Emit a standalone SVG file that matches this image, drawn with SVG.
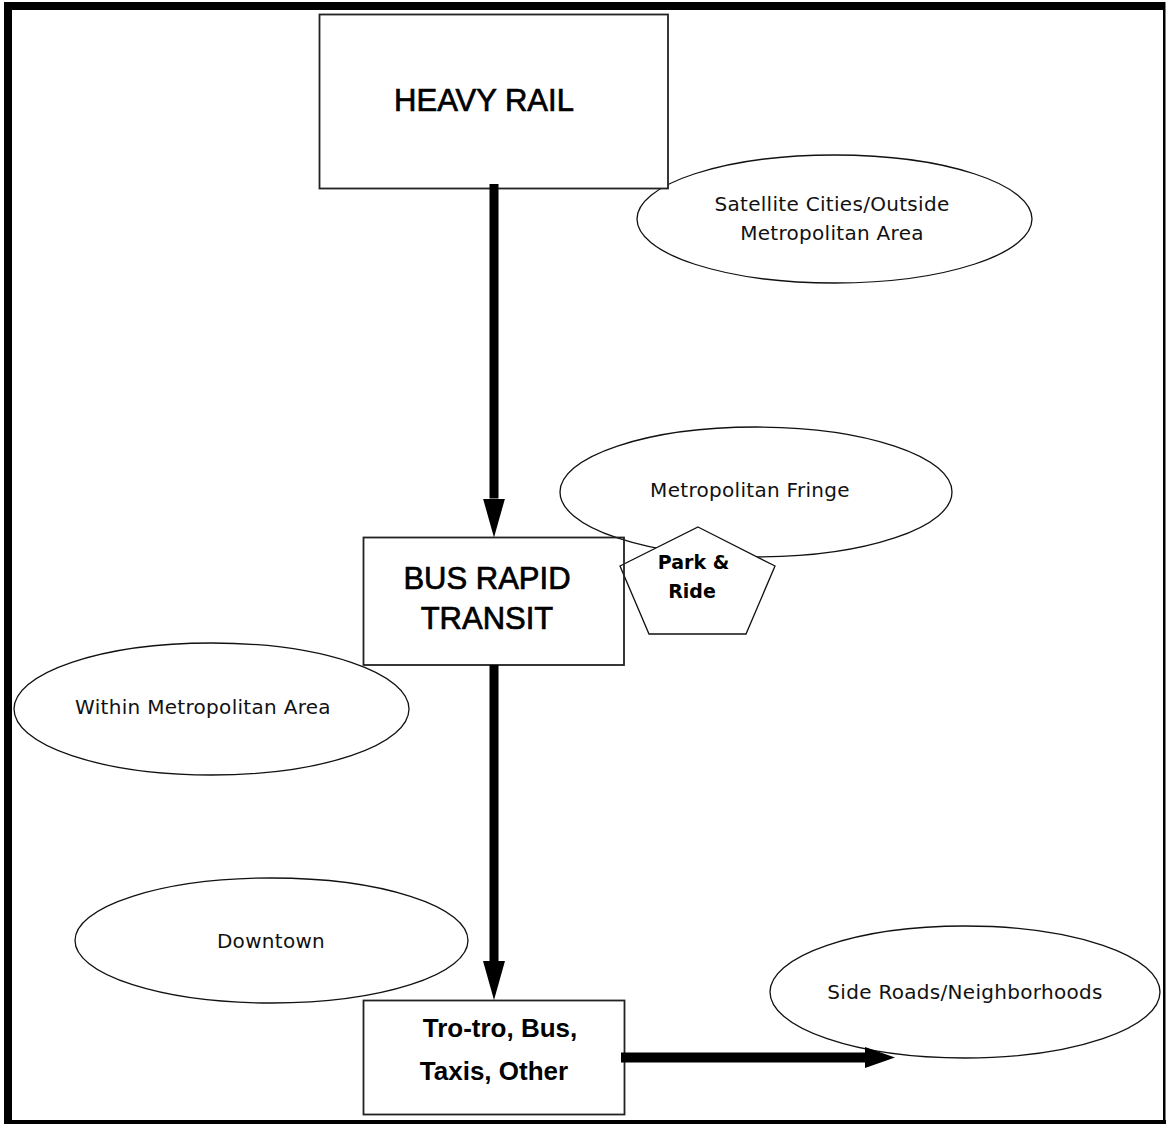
<svg xmlns="http://www.w3.org/2000/svg" width="1166" height="1124" viewBox="0 0 1166 1124">
<style>
.ell{fill:none;stroke:#111;stroke-width:1.3}
.box{fill:#fff;stroke:#222;stroke-width:1.8}
.boxn{fill:none;stroke:#222;stroke-width:1.8}
.big{font-family:"Liberation Sans",Arial,sans-serif;font-size:31px;fill:#000;stroke:#000;stroke-width:0.7;text-anchor:middle}
.bold{font-family:"Liberation Sans",Arial,sans-serif;font-size:26px;font-weight:bold;fill:#000;text-anchor:middle}
.small{font-family:"DejaVu Sans",sans-serif;font-size:20px;letter-spacing:0.3px;fill:#111;text-anchor:middle}
.pr{font-family:"DejaVu Sans",sans-serif;font-size:19px;font-weight:bold;fill:#000;text-anchor:middle}
.conn{stroke:#000;fill:none}
</style>
<defs>
<marker id="av" markerUnits="userSpaceOnUse" viewBox="0 0 39 22" markerWidth="39" markerHeight="22" refX="0" refY="11" orient="auto">
<path d="M0,0 L39,11 L0,22 Z" fill="#000"/>
</marker>
<marker id="ah" markerUnits="userSpaceOnUse" viewBox="0 0 30 21" markerWidth="30" markerHeight="21" refX="0" refY="10.5" orient="auto">
<path d="M0,0 L30,10.5 L0,21 Z" fill="#000"/>
</marker>
</defs>
<rect x="0" y="0" width="1166" height="1124" fill="#fff"/>
<g id="frame" fill="#000">
<rect x="4" y="2" width="1161" height="8"/>
<rect x="4" y="2" width="8" height="1122"/>
<rect x="1163" y="2" width="2.5" height="1122"/>
<rect x="4" y="1120" width="1162" height="4"/>
</g>
<g id="satellite">
<ellipse class="ell" cx="834.5" cy="219" rx="197.5" ry="64"/>
<text class="small" x="832" y="211">Satellite Cities/Outside</text>
<text class="small" x="832" y="240">Metropolitan Area</text>
</g>
<g id="heavy-rail">
<rect class="box" x="319.5" y="14.5" width="348.5" height="174"/>
<text class="big" x="484" y="111">HEAVY RAIL</text>
</g>
<g id="metro-fringe">
<ellipse class="ell" cx="756" cy="492" rx="196" ry="65"/>
<text class="small" x="750" y="497">Metropolitan Fringe</text>
</g>
<g id="park-ride">
<polygon points="698,527 775,566 746,634 649,634 620,566" fill="#fff" stroke="#111" stroke-width="1.3"/>
<text class="pr" x="693.5" y="569">Park &amp;</text>
<text class="pr" x="692" y="598">Ride</text>
</g>
<g id="brt">
<rect class="boxn" x="363.5" y="537.5" width="260.5" height="127.5"/>
<text class="big" x="487" y="589">BUS RAPID</text>
<text class="big" x="487" y="629">TRANSIT</text>
</g>
<g id="within-metro">
<ellipse class="ell" cx="211.5" cy="709" rx="197.5" ry="66"/>
<text class="small" x="203" y="714">Within Metropolitan Area</text>
</g>
<g id="downtown">
<ellipse class="ell" cx="271.5" cy="940.5" rx="196.5" ry="62.5"/>
<text class="small" x="271" y="948">Downtown</text>
</g>
<g id="side-roads">
<ellipse class="ell" cx="965" cy="992" rx="195" ry="66"/>
<text class="small" x="965" y="999">Side Roads/Neighborhoods</text>
</g>
<g id="trotro">
<rect class="box" x="363.5" y="1000.5" width="261" height="114"/>
<text class="bold" x="500" y="1037">Tro-tro, Bus,</text>
<text class="bold" x="494" y="1080">Taxis, Other</text>
</g>
<g id="connectors" class="conn">
<line x1="494" y1="184" x2="494" y2="498.5" stroke-width="9" marker-end="url(#av)"/>
<line x1="494" y1="665" x2="494" y2="961" stroke-width="9" marker-end="url(#av)"/>
<line x1="621" y1="1057.5" x2="865" y2="1057.5" stroke-width="10" marker-end="url(#ah)"/>
</g>
</svg>
